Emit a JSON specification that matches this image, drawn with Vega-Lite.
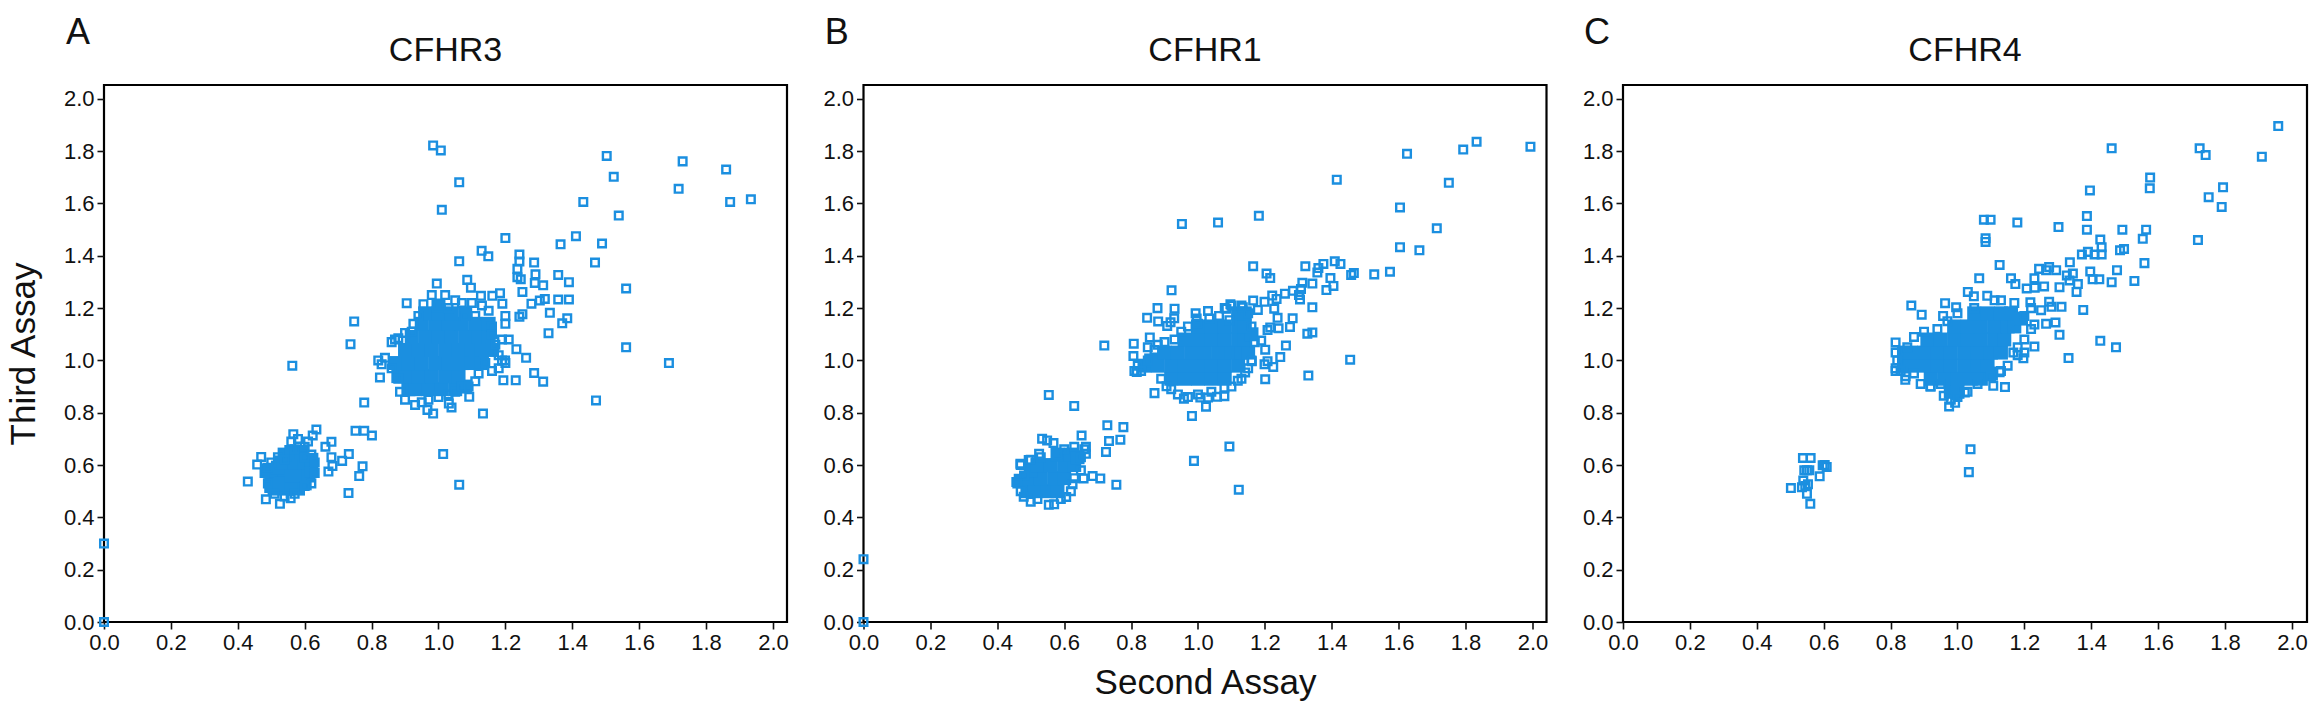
{"$schema":"https://vega.github.io/schema/vega-lite/v6.json","background":"white","padding":{"left":5,"top":14,"right":0,"bottom":0},"bounds":"flush","spacing":76.5,
"config":{"font":"Liberation Sans","view":{"stroke":"black","strokeWidth":2.2},"axis":{"grid":false,"domain":false,"tickColor":"#111","tickWidth":1.6,"tickSize":7,"labelFont":"Liberation Sans","labelFontSize":22,"labelColor":"#111","labelPadding":3,"labelOverlap":false,"labelFlush":false,"titleFont":"Liberation Sans","titleFontSize":35,"titleFontWeight":"normal","titleColor":"#111"},"title":{"font":"Liberation Sans","fontSize":34,"fontWeight":"normal","color":"#111","offset":-53}},
"datasets":{
"A":[{"x":0,"y":0},{"x":0,"y":0.3},{"x":0.984,"y":1.822},{"x":1.007,"y":1.803},{"x":1.062,"y":1.681},{"x":1.01,"y":1.576},{"x":1.503,"y":1.782},{"x":1.524,"y":1.702},{"x":1.73,"y":1.761},{"x":1.718,"y":1.656},{"x":1.86,"y":1.73},{"x":1.872,"y":1.606},{"x":1.934,"y":1.616},{"x":1.433,"y":1.606},{"x":1.539,"y":1.554},{"x":1.411,"y":1.475},{"x":1.365,"y":1.444},{"x":1.489,"y":1.447},{"x":1.2,"y":1.468},{"x":1.468,"y":1.374},{"x":1.129,"y":1.419},{"x":1.149,"y":1.398},{"x":1.062,"y":1.379},{"x":1.242,"y":1.405},{"x":1.242,"y":1.378},{"x":1.286,"y":1.374},{"x":1.236,"y":1.35},{"x":1.236,"y":1.318},{"x":1.246,"y":1.31},{"x":1.29,"y":1.329},{"x":1.358,"y":1.327},{"x":1.39,"y":1.299},{"x":1.288,"y":1.296},{"x":1.313,"y":1.287},{"x":1.561,"y":1.275},{"x":1.251,"y":1.262},{"x":1.318,"y":1.235},{"x":1.303,"y":1.229},{"x":1.278,"y":1.217},{"x":1.358,"y":1.233},{"x":1.39,"y":1.233},{"x":1.251,"y":1.177},{"x":1.242,"y":1.167},{"x":1.333,"y":1.182},{"x":1.385,"y":1.161},{"x":1.37,"y":1.142},{"x":1.329,"y":1.104},{"x":1.561,"y":1.05},{"x":1.689,"y":0.99},{"x":1.471,"y":0.847},{"x":1.262,"y":1.01},{"x":1.286,"y":0.952},{"x":1.313,"y":0.919},{"x":1.231,"y":0.924},{"x":1.194,"y":0.924},{"x":1.133,"y":0.797},{"x":1.092,"y":0.861},{"x":1.014,"y":0.642},{"x":1.062,"y":0.525},{"x":1.233,"y":1.043},{"x":1.199,"y":1.0},{"x":0.984,"y":0.797},{"x":0.967,"y":0.811},{"x":1.039,"y":0.82},{"x":1.031,"y":0.835},{"x":0.748,"y":1.149},{"x":0.737,"y":1.062},{"x":0.563,"y":0.98},{"x":0.905,"y":1.219},{"x":0.995,"y":1.294},{"x":1.086,"y":1.308},{"x":1.097,"y":1.278},{"x":1.184,"y":1.257},{"x":1.161,"y":1.247},{"x":1.127,"y":1.247},{"x":1.191,"y":1.217},{"x":0.778,"y":0.839},{"x":0.752,"y":0.731},{"x":0.778,"y":0.731},{"x":0.801,"y":0.713},{"x":0.825,"y":0.935},{"x":0.635,"y":0.736},{"x":0.68,"y":0.689},{"x":0.662,"y":0.67},{"x":0.566,"y":0.718},{"x":0.624,"y":0.713},{"x":0.732,"y":0.642},{"x":0.712,"y":0.616},{"x":0.68,"y":0.63},{"x":0.773,"y":0.595},{"x":0.763,"y":0.558},{"x":0.731,"y":0.493},{"x":0.671,"y":0.575},{"x":0.683,"y":0.596},{"x":0.47,"y":0.631},{"x":0.458,"y":0.602},{"x":0.43,"y":0.537},{"x":0.484,"y":0.469},{"x":0.526,"y":0.452},{"x":0.558,"y":0.473},{"x":0.82,"y":1.0},{"x":0.84,"y":1.01},{"x":0.83,"y":0.985},{"x":0.86,"y":1.07},{"x":0.87,"y":1.08},{"x":0.88,"y":1.085},{"x":0.9,"y":1.105},{"x":0.86,"y":0.97},{"x":0.88,"y":0.93},{"x":0.885,"y":0.88},{"x":0.9,"y":0.85},{"x":0.93,"y":0.83},{"x":0.95,"y":0.84},{"x":0.97,"y":0.85},{"x":1.0,"y":0.86},{"x":1.03,"y":0.87},{"x":1.05,"y":0.88},{"x":1.07,"y":0.9},{"x":1.09,"y":0.9},{"x":1.11,"y":0.92},{"x":1.12,"y":0.95},{"x":1.14,"y":0.99},{"x":1.16,"y":0.96},{"x":1.18,"y":0.97},{"x":1.19,"y":1.0},{"x":1.2,"y":0.99},{"x":1.18,"y":1.02},{"x":1.17,"y":1.06},{"x":1.19,"y":1.08},{"x":1.21,"y":1.08},{"x":1.2,"y":1.14},{"x":1.2,"y":1.17},{"x":1.15,"y":1.19},{"x":1.13,"y":1.21},{"x":1.1,"y":1.22},{"x":1.07,"y":1.22},{"x":1.05,"y":1.23},{"x":1.02,"y":1.25},{"x":1.0,"y":1.21},{"x":0.98,"y":1.25},{"x":0.955,"y":1.215},{"x":0.94,"y":1.17},{"x":0.925,"y":1.14},{"x":0.92,"y":1.11},{"x":1.03,"y":1.2},{"x":1.08,"y":1.17},{"x":1.11,"y":1.17},{"x":1.16,"y":1.13},{"x":1.16,"y":1.1},{"x":0.5,"y":0.61},{"x":0.52,"y":0.63},{"x":0.54,"y":0.62},{"x":0.56,"y":0.69},{"x":0.57,"y":0.66},{"x":0.6,"y":0.67},{"x":0.62,"y":0.64},{"x":0.63,"y":0.61},{"x":0.63,"y":0.57},{"x":0.62,"y":0.53},{"x":0.6,"y":0.52},{"x":0.57,"y":0.49},{"x":0.54,"y":0.48},{"x":0.51,"y":0.49},{"x":0.49,"y":0.53},{"x":0.48,"y":0.57},{"x":0.49,"y":0.59},{"x":0.58,"y":0.7},{"x":0.6,"y":0.63},{"x":0.61,"y":0.69}],
"coreA":[{"x":0.91,"y":0.89},{"x":0.93,"y":0.89},{"x":0.97,"y":0.89},{"x":1.01,"y":0.89},{"x":1.05,"y":0.89},{"x":1.08,"y":0.9},{"x":0.88,"y":0.94},{"x":0.9,"y":0.94},{"x":0.94,"y":0.94},{"x":0.98,"y":0.94},{"x":1.02,"y":0.94},{"x":1.06,"y":0.94},{"x":0.87,"y":0.99},{"x":0.91,"y":0.99},{"x":0.95,"y":0.99},{"x":0.99,"y":0.99},{"x":1.03,"y":0.99},{"x":1.07,"y":0.99},{"x":1.1,"y":0.99},{"x":1.13,"y":0.99},{"x":0.9,"y":1.04},{"x":0.94,"y":1.04},{"x":0.98,"y":1.04},{"x":1.02,"y":1.04},{"x":1.06,"y":1.04},{"x":1.1,"y":1.04},{"x":1.13,"y":1.04},{"x":1.16,"y":1.04},{"x":0.92,"y":1.09},{"x":0.96,"y":1.09},{"x":1.0,"y":1.09},{"x":1.04,"y":1.09},{"x":1.08,"y":1.09},{"x":1.12,"y":1.09},{"x":1.15,"y":1.09},{"x":0.95,"y":1.14},{"x":0.99,"y":1.14},{"x":1.03,"y":1.14},{"x":1.07,"y":1.14},{"x":1.11,"y":1.14},{"x":1.15,"y":1.14},{"x":0.96,"y":1.18},{"x":1.0,"y":1.18},{"x":1.04,"y":1.18},{"x":1.08,"y":1.18},{"x":1.0,"y":1.21},{"x":0.51,"y":0.51},{"x":0.55,"y":0.51},{"x":0.58,"y":0.51},{"x":0.5,"y":0.52},{"x":0.6,"y":0.53},{"x":0.5,"y":0.56},{"x":0.54,"y":0.56},{"x":0.58,"y":0.56},{"x":0.61,"y":0.56},{"x":0.52,"y":0.53},{"x":0.49,"y":0.58},{"x":0.52,"y":0.59},{"x":0.53,"y":0.61},{"x":0.57,"y":0.61},{"x":0.6,"y":0.61},{"x":0.62,"y":0.58},{"x":0.62,"y":0.62},{"x":0.54,"y":0.64},{"x":0.56,"y":0.65},{"x":0.59,"y":0.65}],
"B":[{"x":0,"y":0},{"x":0,"y":0.24},{"x":1.994,"y":1.817},{"x":1.833,"y":1.836},{"x":1.793,"y":1.806},{"x":1.625,"y":1.79},{"x":1.415,"y":1.691},{"x":1.75,"y":1.679},{"x":1.604,"y":1.585},{"x":1.182,"y":1.553},{"x":1.06,"y":1.527},{"x":0.952,"y":1.522},{"x":1.714,"y":1.505},{"x":1.604,"y":1.433},{"x":1.662,"y":1.421},{"x":1.409,"y":1.379},{"x":1.426,"y":1.369},{"x":1.375,"y":1.369},{"x":1.321,"y":1.36},{"x":1.36,"y":1.353},{"x":1.165,"y":1.36},{"x":1.357,"y":1.336},{"x":1.205,"y":1.332},{"x":1.216,"y":1.315},{"x":1.466,"y":1.334},{"x":1.458,"y":1.327},{"x":1.527,"y":1.329},{"x":1.574,"y":1.339},{"x":1.396,"y":1.315},{"x":1.405,"y":1.285},{"x":1.384,"y":1.269},{"x":1.342,"y":1.294},{"x":1.312,"y":1.297},{"x":1.308,"y":1.273},{"x":1.302,"y":1.25},{"x":1.305,"y":1.233},{"x":1.284,"y":1.266},{"x":1.26,"y":1.255},{"x":1.222,"y":1.248},{"x":1.235,"y":1.235},{"x":1.199,"y":1.224},{"x":1.228,"y":1.198},{"x":1.179,"y":1.193},{"x":1.165,"y":1.229},{"x":1.342,"y":1.203},{"x":1.283,"y":1.161},{"x":1.238,"y":1.163},{"x":1.275,"y":1.128},{"x":1.241,"y":1.123},{"x":1.216,"y":1.126},{"x":1.208,"y":1.116},{"x":1.327,"y":1.102},{"x":1.342,"y":1.107},{"x":1.263,"y":1.057},{"x":1.189,"y":1.076},{"x":1.201,"y":1.041},{"x":1.246,"y":1.013},{"x":1.208,"y":0.997},{"x":1.199,"y":0.985},{"x":1.225,"y":0.975},{"x":1.455,"y":1.003},{"x":1.33,"y":0.942},{"x":1.201,"y":0.928},{"x":1.161,"y":0.997},{"x":1.141,"y":0.954},{"x":1.119,"y":0.922},{"x":1.079,"y":0.896},{"x":1.079,"y":0.863},{"x":1.057,"y":0.861},{"x":1.03,"y":0.858},{"x":1.007,"y":0.858},{"x":1.024,"y":0.823},{"x":0.982,"y":0.788},{"x":0.958,"y":0.854},{"x":0.87,"y":0.875},{"x":1.094,"y":0.671},{"x":0.988,"y":0.616},{"x":1.122,"y":0.506},{"x":0.72,"y":1.057},{"x":0.808,"y":1.064},{"x":0.807,"y":1.017},{"x":0.856,"y":1.088},{"x":0.848,"y":1.163},{"x":0.879,"y":1.2},{"x":0.881,"y":1.149},{"x":0.921,"y":1.268},{"x":0.93,"y":1.198},{"x":0.929,"y":1.161},{"x":0.908,"y":1.132},{"x":0.918,"y":1.146},{"x":0.993,"y":1.18},{"x":1.03,"y":1.189},{"x":0.996,"y":1.16},{"x":1.034,"y":1.16},{"x":1.063,"y":1.17},{"x":1.094,"y":1.154},{"x":1.097,"y":1.215},{"x":1.085,"y":1.198},{"x":1.134,"y":1.203},{"x":0.817,"y":0.956},{"x":0.906,"y":0.901},{"x":0.554,"y":0.868},{"x":0.63,"y":0.826},{"x":0.729,"y":0.752},{"x":0.777,"y":0.745},{"x":0.734,"y":0.692},{"x":0.768,"y":0.697},{"x":0.652,"y":0.713},{"x":0.725,"y":0.65},{"x":0.665,"y":0.643},{"x":0.665,"y":0.67},{"x":0.534,"y":0.701},{"x":0.549,"y":0.694},{"x":0.568,"y":0.684},{"x":0.525,"y":0.643},{"x":0.469,"y":0.605},{"x":0.494,"y":0.619},{"x":0.457,"y":0.535},{"x":0.479,"y":0.479},{"x":0.554,"y":0.448},{"x":0.606,"y":0.478},{"x":0.625,"y":0.527},{"x":0.658,"y":0.549},{"x":0.685,"y":0.558},{"x":0.708,"y":0.549},{"x":0.756,"y":0.525},{"x":0.81,"y":0.96},{"x":0.82,"y":0.98},{"x":0.83,"y":0.96},{"x":0.85,"y":1.0},{"x":0.85,"y":1.05},{"x":0.87,"y":1.04},{"x":0.88,"y":1.06},{"x":0.9,"y":1.07},{"x":0.93,"y":1.08},{"x":0.95,"y":1.11},{"x":0.97,"y":1.13},{"x":1.0,"y":1.14},{"x":0.89,"y":0.93},{"x":0.92,"y":0.89},{"x":0.94,"y":0.87},{"x":0.97,"y":0.86},{"x":1.0,"y":0.87},{"x":1.04,"y":0.88},{"x":1.1,"y":0.9},{"x":1.13,"y":0.93},{"x":1.15,"y":0.97},{"x":1.16,"y":1.0},{"x":1.17,"y":1.07},{"x":1.16,"y":1.13},{"x":1.15,"y":1.18},{"x":1.13,"y":1.21},{"x":1.1,"y":1.21},{"x":1.08,"y":1.2},{"x":0.47,"y":0.6},{"x":0.48,"y":0.56},{"x":0.46,"y":0.53},{"x":0.47,"y":0.5},{"x":0.5,"y":0.46},{"x":0.52,"y":0.47},{"x":0.57,"y":0.45},{"x":0.59,"y":0.47},{"x":0.62,"y":0.5},{"x":0.63,"y":0.55},{"x":0.65,"y":0.58},{"x":0.65,"y":0.63},{"x":0.66,"y":0.66},{"x":0.63,"y":0.67},{"x":0.6,"y":0.66},{"x":0.58,"y":0.64},{"x":0.5,"y":0.62},{"x":0.53,"y":0.63}],
"coreB":[{"x":0.92,"y":0.93},{"x":0.96,"y":0.93},{"x":1.0,"y":0.93},{"x":1.04,"y":0.93},{"x":1.08,"y":0.93},{"x":0.84,"y":0.98},{"x":0.86,"y":1.0},{"x":0.88,"y":0.98},{"x":0.92,"y":0.98},{"x":0.96,"y":0.98},{"x":1.0,"y":0.98},{"x":1.04,"y":0.98},{"x":1.08,"y":0.98},{"x":1.12,"y":0.98},{"x":0.9,"y":1.03},{"x":0.94,"y":1.03},{"x":0.98,"y":1.03},{"x":1.02,"y":1.03},{"x":1.06,"y":1.03},{"x":1.1,"y":1.03},{"x":1.13,"y":1.03},{"x":1.15,"y":1.03},{"x":0.96,"y":1.08},{"x":1.0,"y":1.08},{"x":1.04,"y":1.08},{"x":1.08,"y":1.08},{"x":1.12,"y":1.08},{"x":1.14,"y":1.08},{"x":1.16,"y":1.1},{"x":1.0,"y":1.13},{"x":1.04,"y":1.13},{"x":1.08,"y":1.13},{"x":1.12,"y":1.13},{"x":1.14,"y":1.13},{"x":1.12,"y":1.18},{"x":1.14,"y":1.18},{"x":0.49,"y":0.5},{"x":0.51,"y":0.5},{"x":0.55,"y":0.5},{"x":0.58,"y":0.5},{"x":0.47,"y":0.54},{"x":0.49,"y":0.55},{"x":0.53,"y":0.55},{"x":0.57,"y":0.55},{"x":0.6,"y":0.55},{"x":0.5,"y":0.58},{"x":0.52,"y":0.6},{"x":0.56,"y":0.6},{"x":0.6,"y":0.6},{"x":0.63,"y":0.6},{"x":0.58,"y":0.64},{"x":0.62,"y":0.64},{"x":0.64,"y":0.63}],
"C":[{"x":1.959,"y":1.896},{"x":1.461,"y":1.811},{"x":1.724,"y":1.811},{"x":1.742,"y":1.785},{"x":1.91,"y":1.779},{"x":1.794,"y":1.662},{"x":1.576,"y":1.699},{"x":1.575,"y":1.658},{"x":1.396,"y":1.65},{"x":1.751,"y":1.624},{"x":1.79,"y":1.587},{"x":1.387,"y":1.552},{"x":1.079,"y":1.538},{"x":1.099,"y":1.538},{"x":1.179,"y":1.527},{"x":1.302,"y":1.51},{"x":1.387,"y":1.5},{"x":1.493,"y":1.5},{"x":1.564,"y":1.5},{"x":1.554,"y":1.465},{"x":1.719,"y":1.46},{"x":1.427,"y":1.462},{"x":1.084,"y":1.467},{"x":1.084,"y":1.453},{"x":1.431,"y":1.433},{"x":1.486,"y":1.421},{"x":1.498,"y":1.426},{"x":1.39,"y":1.415},{"x":1.372,"y":1.405},{"x":1.41,"y":1.405},{"x":1.431,"y":1.405},{"x":1.559,"y":1.372},{"x":1.336,"y":1.375},{"x":1.126,"y":1.365},{"x":1.477,"y":1.345},{"x":1.397,"y":1.34},{"x":1.244,"y":1.35},{"x":1.274,"y":1.357},{"x":1.295,"y":1.345},{"x":1.265,"y":1.345},{"x":1.327,"y":1.325},{"x":1.345,"y":1.332},{"x":1.335,"y":1.306},{"x":1.36,"y":1.292},{"x":1.404,"y":1.31},{"x":1.424,"y":1.31},{"x":1.461,"y":1.299},{"x":1.529,"y":1.304},{"x":1.065,"y":1.314},{"x":1.16,"y":1.314},{"x":1.23,"y":1.314},{"x":1.173,"y":1.292},{"x":1.259,"y":1.283},{"x":1.231,"y":1.278},{"x":1.305,"y":1.28},{"x":1.356,"y":1.262},{"x":1.207,"y":1.275},{"x":1.031,"y":1.262},{"x":1.049,"y":1.245},{"x":1.089,"y":1.247},{"x":1.111,"y":1.23},{"x":0.862,"y":1.21},{"x":0.963,"y":1.219},{"x":0.996,"y":1.203},{"x":0.893,"y":1.175},{"x":0.957,"y":1.17},{"x":1.274,"y":1.224},{"x":1.311,"y":1.205},{"x":1.281,"y":1.205},{"x":1.376,"y":1.193},{"x":1.25,"y":1.192},{"x":1.218,"y":1.222},{"x":1.293,"y":1.145},{"x":1.265,"y":1.14},{"x":1.23,"y":1.137},{"x":1.305,"y":1.098},{"x":1.427,"y":1.075},{"x":1.474,"y":1.05},{"x":1.23,"y":1.053},{"x":1.332,"y":1.009},{"x":1.197,"y":1.008},{"x":1.2,"y":1.03},{"x":1.167,"y":1.03},{"x":1.126,"y":0.955},{"x":1.107,"y":0.903},{"x":1.142,"y":0.898},{"x":0.959,"y":0.865},{"x":0.975,"y":0.824},{"x":0.993,"y":0.838},{"x":1.022,"y":0.877},{"x":0.815,"y":1.069},{"x":0.815,"y":0.96},{"x":0.844,"y":0.926},{"x":0.919,"y":0.9},{"x":1.039,"y":0.66},{"x":1.034,"y":0.573},{"x":0.538,"y":0.627},{"x":0.561,"y":0.627},{"x":0.597,"y":0.599},{"x":0.609,"y":0.593},{"x":0.603,"y":0.6},{"x":0.542,"y":0.58},{"x":0.55,"y":0.58},{"x":0.557,"y":0.58},{"x":0.588,"y":0.557},{"x":0.539,"y":0.541},{"x":0.553,"y":0.527},{"x":0.535,"y":0.515},{"x":0.545,"y":0.52},{"x":0.502,"y":0.512},{"x":0.55,"y":0.49},{"x":0.56,"y":0.452},{"x":0.815,"y":1.03},{"x":0.82,"y":1.0},{"x":0.815,"y":0.97},{"x":0.83,"y":0.96},{"x":0.845,"y":0.94},{"x":0.87,"y":0.95},{"x":0.89,"y":0.91},{"x":0.92,"y":0.9},{"x":0.95,"y":0.91},{"x":0.98,"y":0.85},{"x":1.0,"y":0.86},{"x":1.03,"y":0.88},{"x":1.06,"y":0.91},{"x":1.1,"y":0.94},{"x":1.13,"y":0.96},{"x":1.15,"y":0.98},{"x":1.18,"y":1.02},{"x":1.18,"y":1.05},{"x":1.2,"y":1.08},{"x":1.22,"y":1.12},{"x":1.2,"y":1.17},{"x":1.22,"y":1.2},{"x":1.17,"y":1.22},{"x":1.13,"y":1.23},{"x":1.05,"y":1.2},{"x":1.0,"y":1.18},{"x":0.97,"y":1.15},{"x":0.94,"y":1.12},{"x":0.9,"y":1.11},{"x":0.87,"y":1.09},{"x":0.85,"y":1.05}],
"coreC":[{"x":0.98,"y":0.88},{"x":1.0,"y":0.88},{"x":0.92,"y":0.93},{"x":0.96,"y":0.93},{"x":1.0,"y":0.93},{"x":1.04,"y":0.93},{"x":1.07,"y":0.93},{"x":1.1,"y":0.95},{"x":0.84,"y":0.98},{"x":0.86,"y":0.98},{"x":0.9,"y":0.98},{"x":0.94,"y":0.98},{"x":0.98,"y":0.98},{"x":1.02,"y":0.98},{"x":1.06,"y":0.98},{"x":1.09,"y":0.98},{"x":0.84,"y":1.03},{"x":0.86,"y":1.03},{"x":0.9,"y":1.03},{"x":0.94,"y":1.03},{"x":0.98,"y":1.03},{"x":1.02,"y":1.03},{"x":1.06,"y":1.03},{"x":1.1,"y":1.03},{"x":1.13,"y":1.03},{"x":0.91,"y":1.08},{"x":0.95,"y":1.08},{"x":0.99,"y":1.08},{"x":1.03,"y":1.08},{"x":1.07,"y":1.08},{"x":1.11,"y":1.08},{"x":1.14,"y":1.08},{"x":0.99,"y":1.13},{"x":1.03,"y":1.13},{"x":1.07,"y":1.13},{"x":1.11,"y":1.13},{"x":1.15,"y":1.13},{"x":1.17,"y":1.13},{"x":1.05,"y":1.18},{"x":1.09,"y":1.18},{"x":1.13,"y":1.18},{"x":1.16,"y":1.18},{"x":1.19,"y":1.16}]
},
"hconcat":[
{"title":{"text":"CFHR3"},"width":683,"height":537,"layer":[
{"data":{"name":"coreA"},"mark":{"type":"square","size":196,"filled":true,"color":"#1B8FE0","opacity":1},"encoding":{"x":{"field":"x","type":"quantitative","scale":{"domain":[0,2.042]},"axis":{"title":null,"values":[0,0.2,0.4,0.6,0.8,1,1.2,1.4,1.6,1.8,2],"format":".1f"}},"y":{"field":"y","type":"quantitative","scale":{"domain":[0,2.053]},"axis":{"title":"Third Assay","titlePadding":22,"values":[0,0.2,0.4,0.6,0.8,1,1.2,1.4,1.6,1.8,2],"format":".1f"}}}},
{"data":{"name":"A"},"mark":{"type":"square","size":58,"filled":false,"stroke":"#1B8FE0","strokeWidth":2.4,"opacity":1},"encoding":{"x":{"field":"x","type":"quantitative","scale":{"domain":[0,2.042]}},"y":{"field":"y","type":"quantitative","scale":{"domain":[0,2.053]}}}},
{"data":{"values":[{"letter":"A"}]},"mark":{"type":"text","fontSize":36,"color":"#111","align":"center","baseline":"middle"},"encoding":{"x":{"datum":-0.078,"scale":{"domain":[0,2.042]}},"y":{"datum":2.25,"scale":{"domain":[0,2.053]}},"text":{"field":"letter"}}}]},
{"title":{"text":"CFHR1"},"width":683,"height":537,"layer":[
{"data":{"name":"coreB"},"mark":{"type":"square","size":196,"filled":true,"color":"#1B8FE0","opacity":1},"encoding":{"x":{"field":"x","type":"quantitative","scale":{"domain":[0,2.042]},"axis":{"title":"Second Assay","titlePadding":12,"values":[0,0.2,0.4,0.6,0.8,1,1.2,1.4,1.6,1.8,2],"format":".1f"}},"y":{"field":"y","type":"quantitative","scale":{"domain":[0,2.053]},"axis":{"title":null,"values":[0,0.2,0.4,0.6,0.8,1,1.2,1.4,1.6,1.8,2],"format":".1f"}}}},
{"data":{"name":"B"},"mark":{"type":"square","size":58,"filled":false,"stroke":"#1B8FE0","strokeWidth":2.4,"opacity":1},"encoding":{"x":{"field":"x","type":"quantitative","scale":{"domain":[0,2.042]}},"y":{"field":"y","type":"quantitative","scale":{"domain":[0,2.053]}}}},
{"data":{"values":[{"letter":"B"}]},"mark":{"type":"text","fontSize":36,"color":"#111","align":"center","baseline":"middle"},"encoding":{"x":{"datum":-0.08,"scale":{"domain":[0,2.042]}},"y":{"datum":2.25,"scale":{"domain":[0,2.053]}},"text":{"field":"letter"}}}]},
{"title":{"text":"CFHR4"},"width":684,"height":537,"layer":[
{"data":{"name":"coreC"},"mark":{"type":"square","size":196,"filled":true,"color":"#1B8FE0","opacity":1},"encoding":{"x":{"field":"x","type":"quantitative","scale":{"domain":[0,2.045]},"axis":{"title":null,"values":[0,0.2,0.4,0.6,0.8,1,1.2,1.4,1.6,1.8,2],"format":".1f"}},"y":{"field":"y","type":"quantitative","scale":{"domain":[0,2.053]},"axis":{"title":null,"values":[0,0.2,0.4,0.6,0.8,1,1.2,1.4,1.6,1.8,2],"format":".1f"}}}},
{"data":{"name":"C"},"mark":{"type":"square","size":58,"filled":false,"stroke":"#1B8FE0","strokeWidth":2.4,"opacity":1},"encoding":{"x":{"field":"x","type":"quantitative","scale":{"domain":[0,2.045]}},"y":{"field":"y","type":"quantitative","scale":{"domain":[0,2.053]}}}},
{"data":{"values":[{"letter":"C"}]},"mark":{"type":"text","fontSize":36,"color":"#111","align":"center","baseline":"middle"},"encoding":{"x":{"datum":-0.078,"scale":{"domain":[0,2.045]}},"y":{"datum":2.25,"scale":{"domain":[0,2.053]}},"text":{"field":"letter"}}}]}
]}
